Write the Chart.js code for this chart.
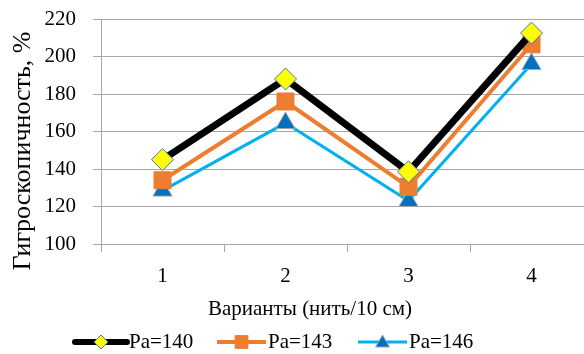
<!DOCTYPE html>
<html>
<head>
<meta charset="utf-8">
<script src="https://cdn.jsdelivr.net/npm/chart.js@4/dist/chart.umd.min.js"></script>
<style>
html,body{margin:0;padding:0;background:#fff;overflow:hidden;width:584px;height:354px;}
#wrap{position:relative;width:584px;height:354px;overflow:hidden;}
#c{position:absolute;left:0;top:0;}
</style>
</head>
<body>
<div id="wrap"><canvas id="c" width="606" height="354" style="width:606px;height:354px"></canvas></div>
<script>
const categories = ['1', '2', '3', '4'];
const seriesNames = ['Ра=140', 'Ра=143', 'Ра=146'];
const pa140 = [145, 188, 138.5, 212.5];
const pa143 = [134, 176, 130.5, 206.5];
const pa146 = [128.5, 164.5, 123, 196];
const yTicks = [100, 120, 140, 160, 180, 200, 220];
const xTitle = 'Варианты (нить/10 см)';
const yTitle = 'Гигроскопичность, %';

const FAMILY = 'Liberation Serif';

const styles = [
  {line:'#000000', lw:7, shape:'diamond', fill:'#FFFF00', stroke:'#4472C4', r:11, legR:7, legLw:6},
  {line:'#ED7D31', lw:4, shape:'square', fill:'#ED7D31', stroke:'#ED7D31', r:12, legR:9, legLw:4},
  {line:'#00B0F0', lw:3, shape:'triangle', fill:'#0070C0', stroke:'#A5A5A5', r:11, legR:8, legLw:3}
];
const pointStyleMap = {diamond:'rectRot', square:'rect', triangle:'triangle'};

function drawMarker(ctx, shape, x, y, r, fill, stroke) {
  ctx.save();
  ctx.beginPath();
  if (shape === 'diamond') {
    ctx.moveTo(x - r, y); ctx.lineTo(x, y - r); ctx.lineTo(x + r, y); ctx.lineTo(x, y + r);
  } else if (shape === 'square') {
    const s = r * Math.SQRT1_2;
    ctx.rect(x - s, y - s, 2 * s, 2 * s);
  } else {
    const w = Math.sin(Math.PI / 3) * r;
    ctx.moveTo(x, y - r); ctx.lineTo(x + w, y + r / 2); ctx.lineTo(x - w, y + r / 2);
  }
  ctx.closePath();
  ctx.fillStyle = fill; ctx.fill();
  ctx.lineWidth = 1; ctx.strokeStyle = stroke; ctx.stroke();
  ctx.restore();
}

const extras = {
  id: 'extras',
  afterDraw(chart) {
    const ctx = chart.ctx;
    ctx.save();
    ctx.fillStyle = '#000';
    ctx.font = '26px "' + FAMILY + '"';
    ctx.textAlign = 'center';
    ctx.textBaseline = 'middle';
    ctx.save();
    ctx.translate(23, 151);
    ctx.rotate(-Math.PI / 2);
    ctx.fillText(yTitle, 0, 0);
    ctx.restore();
    ctx.font = '21px "' + FAMILY + '"';
    ctx.fillText(xTitle, 310, 309);
    const items = [
      {x1:75, x2:127, tx:129},
      {x1:217, x2:266, tx:268},
      {x1:358, x2:407, tx:409}
    ];
    const ly = 342;
    items.forEach((it, i) => {
      const s = styles[i];
      ctx.save();
      ctx.strokeStyle = s.line;
      ctx.lineWidth = s.legLw;
      ctx.lineCap = i === 0 ? 'round' : 'butt';
      ctx.beginPath(); ctx.moveTo(it.x1, ly); ctx.lineTo(it.x2, ly); ctx.stroke();
      ctx.restore();
      drawMarker(ctx, s.shape, (it.x1 + it.x2) / 2, ly + (s.shape === 'triangle' ? 1 : 0), s.legR, s.fill, s.stroke);
      ctx.fillStyle = '#000';
      ctx.font = '21px "' + FAMILY + '"';
      ctx.textAlign = 'left';
      ctx.textBaseline = 'middle';
      ctx.fillText(seriesNames[i], it.tx, ly);
    });
    ctx.restore();
  }
};

const dataArrays = [pa140, pa143, pa146];
new Chart(document.getElementById('c'), {
  type: 'line',
  data: {
    labels: categories,
    datasets: dataArrays.map((d, i) => ({
      label: seriesNames[i],
      data: d,
      borderColor: styles[i].line,
      borderWidth: styles[i].lw,
      backgroundColor: styles[i].fill,
      pointStyle: pointStyleMap[styles[i].shape],
      pointRadius: styles[i].r,
      pointHoverRadius: styles[i].r,
      pointBackgroundColor: styles[i].fill,
      pointBorderColor: styles[i].stroke,
      pointBorderWidth: 1,
      tension: 0,
      fill: false
    }))
  },
  options: {
    responsive: false,
    animation: false,
    layout: {padding: {top: 19, right: 1, left: 0, bottom: 0}},
    plugins: {legend: {display: false}, tooltip: {enabled: false}, title: {display: false}},
    scales: {
      x: {
        offset: true,
        grid: {display: true, drawOnChartArea: false, drawTicks: true, tickLength: 8, offset: true, color: '#A6A6A6', lineWidth: 1},
        border: {display: true, color: '#A6A6A6', width: 1},
        ticks: {color: '#000', font: {family: FAMILY, size: 21}, padding: 12, maxRotation: 0},
        afterFit(scale) { scale.height = 110; scale.paddingLeft = 0; scale.paddingRight = 0; }
      },
      y: {
        min: 100, max: 220,
        afterBuildTicks(scale) { scale.ticks = yTicks.map(v => ({value: v})); },
        grid: {color: '#A6A6A6', lineWidth: 1, tickLength: 8, drawTicks: true},
        border: {display: true, color: '#A6A6A6', width: 1},
        ticks: {color: '#000', font: {family: FAMILY, size: 21}, padding: 17},
        afterFit(scale) { scale.width = 101; scale.paddingTop = 0; scale.paddingBottom = 0; }
      }
    }
  },
  plugins: [extras]
});
</script>
</body>
</html>
